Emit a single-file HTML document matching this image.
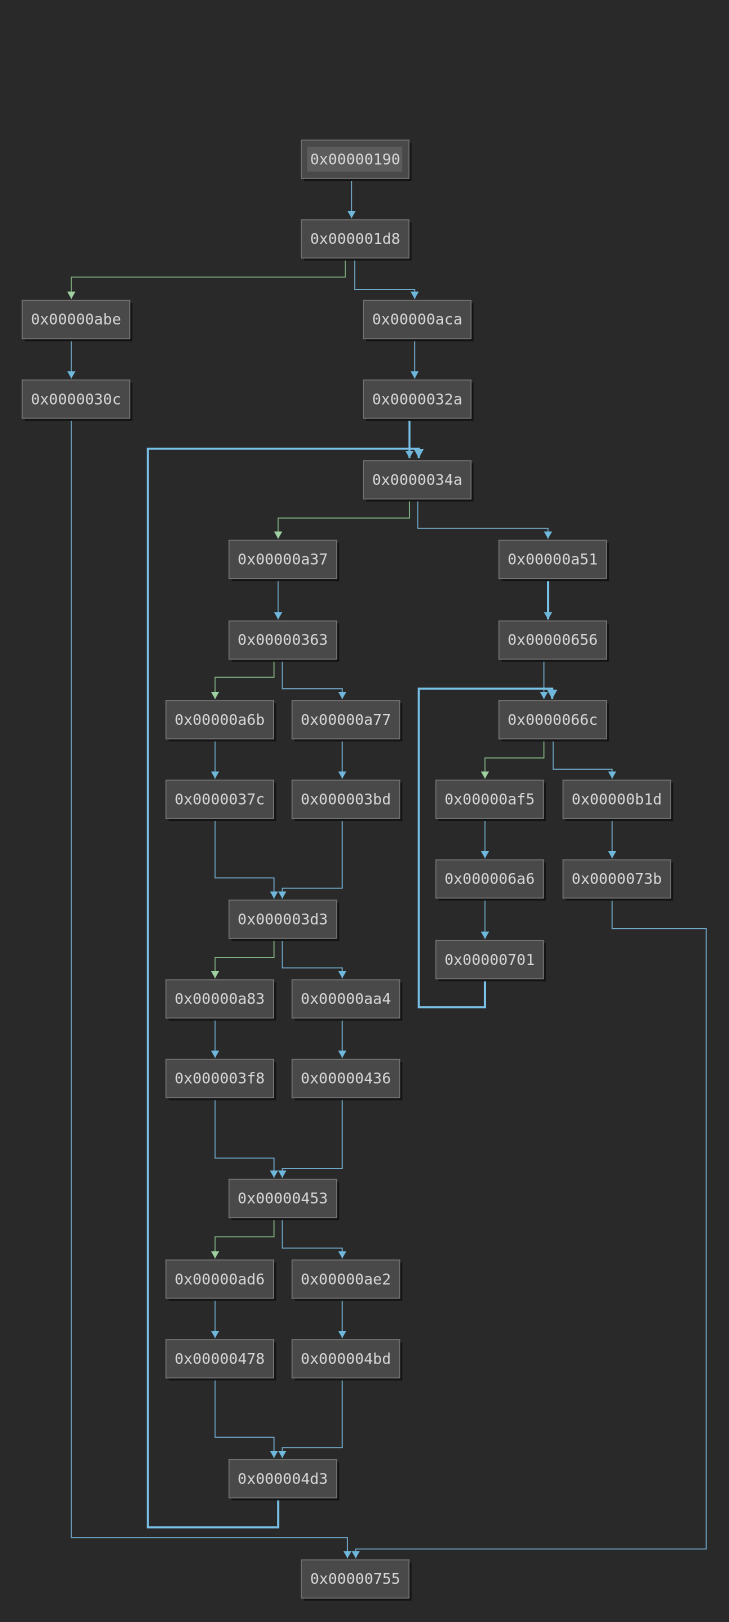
<!DOCTYPE html>
<html><head><style>
html,body{margin:0;padding:0;background:#292929;width:729px;height:1622px;overflow:hidden}
svg{display:block}
text{font-family:"DejaVu Sans Mono","Liberation Mono",monospace;font-size:14.5px;fill:#d6d6d6}
</style></head><body>
<svg width="729" height="1622" viewBox="0 0 705 1568.6" preserveAspectRatio="none" xmlns="http://www.w3.org/2000/svg">
<defs>
<marker id="b" markerWidth="8" markerHeight="8" refX="4" refY="7" markerUnits="userSpaceOnUse" viewBox="0 0 8 8"><path d="M0,0 L8,0 L4,7 z" fill="#6fb8dc"/></marker>
<marker id="g" markerWidth="8" markerHeight="8" refX="4" refY="7" markerUnits="userSpaceOnUse" viewBox="0 0 8 8"><path d="M0,0 L8,0 L4,7 z" fill="#9fd09f"/></marker>
<marker id="bb" markerWidth="10" markerHeight="10" refX="5" refY="9" markerUnits="userSpaceOnUse" viewBox="0 0 10 10"><path d="M0,0 L10,0 L5,9 z" fill="#6fb8dc"/></marker>
</defs>
<g fill="none" stroke-width="1">
<g stroke="#6fa8c8">
<polyline points="340,172 340,211" marker-end="url(#b)"/>
<polyline points="343,249 343,280 401,280 401,289" marker-end="url(#b)"/>
<polyline points="69,327 69,366" marker-end="url(#b)"/>
<polyline points="401,327 401,366" marker-end="url(#b)"/>
<polyline points="69,404 69,1487 336,1487 336,1507" marker-end="url(#b)"/>
<polyline points="404,482 404,511 530,511 530,521" marker-end="url(#b)"/>
<polyline points="269,559 269,599" marker-end="url(#b)"/>
<polyline points="273,637 273,666 331,666 331,676" marker-end="url(#b)"/>
<polyline points="526,637 526,676" marker-end="url(#b)"/>
<polyline points="535,714 535,744 592,744 592,753" marker-end="url(#b)"/>
<polyline points="469,791 469,830" marker-end="url(#b)"/>
<polyline points="469,868 469,908" marker-end="url(#b)"/>
<polyline points="592,791 592,830" marker-end="url(#b)"/>
<polyline points="592,868 592,898 683,898 683,1498 344,1498 344,1507" marker-end="url(#b)"/>
<polyline points="208,714 208,753" marker-end="url(#b)"/>
<polyline points="331,714 331,753" marker-end="url(#b)"/>
<polyline points="208,791 208,849 265,849 265,869" marker-end="url(#b)"/>
<polyline points="331,791 331,859 273,859 273,869" marker-end="url(#b)"/>
<polyline points="273,907 273,936 331,936 331,946" marker-end="url(#b)"/>
<polyline points="208,984 208,1023" marker-end="url(#b)"/>
<polyline points="331,984 331,1023" marker-end="url(#b)"/>
<polyline points="208,1061 208,1120 265,1120 265,1139" marker-end="url(#b)"/>
<polyline points="331,1061 331,1130 273,1130 273,1139" marker-end="url(#b)"/>
<polyline points="273,1177 273,1207 331,1207 331,1217" marker-end="url(#b)"/>
<polyline points="208,1255 208,1294" marker-end="url(#b)"/>
<polyline points="331,1255 331,1294" marker-end="url(#b)"/>
<polyline points="208,1332 208,1390 265,1390 265,1410" marker-end="url(#b)"/>
<polyline points="331,1332 331,1400 273,1400 273,1410" marker-end="url(#b)"/>
</g>
<g stroke="#7fb07f">
<polyline points="334,249 334,268 69,268 69,289" marker-end="url(#g)"/>
<polyline points="396,482 396,501 269,501 269,521" marker-end="url(#g)"/>
<polyline points="265,637 265,655 208,655 208,676" marker-end="url(#g)"/>
<polyline points="526,714 526,733 469,733 469,753" marker-end="url(#g)"/>
<polyline points="265,907 265,926 208,926 208,946" marker-end="url(#g)"/>
<polyline points="265,1177 265,1196 208,1196 208,1217" marker-end="url(#g)"/>
</g>
<g stroke="#78c0e6" stroke-width="2">
<polyline points="396,404 396,443" marker-end="url(#b)"/>
<polyline points="269,1448 269,1477 143,1477 143,434 405,434 405,443" marker-end="url(#bb)"/>
<polyline points="530,559 530,599" marker-end="url(#b)"/>
<polyline points="469,946 469,974 405,974 405,666 534,666 534,676" marker-end="url(#bb)"/>
</g>
</g>
<g id="nodes"></g>
</svg>
<script>
var N=[["0x00000190",291,135,1],["0x000001d8",291,212],["0x00000abe",21,290],["0x00000aca",351,290],["0x0000030c",21,367],["0x0000032a",351,367],["0x0000034a",351,445],["0x00000a37",221,522],["0x00000a51",482,522],["0x00000363",221,600],["0x00000656",482,600],["0x00000a6b",160,677],["0x00000a77",282,677],["0x0000066c",482,677],["0x0000037c",160,754],["0x000003bd",282,754],["0x00000af5",421,754],["0x00000b1d",544,754],["0x000006a6",421,831],["0x0000073b",544,831],["0x000003d3",221,870],["0x00000701",421,909],["0x00000a83",160,947],["0x00000aa4",282,947],["0x000003f8",160,1024],["0x00000436",282,1024],["0x00000453",221,1140],["0x00000ad6",160,1218],["0x00000ae2",282,1218],["0x00000478",160,1295],["0x000004bd",282,1295],["0x000004d3",221,1411],["0x00000755",291,1508]];
var g=document.getElementById("nodes"),s="";
N.forEach(function(n){var x=n[1],y=n[2];
s+='<rect x="'+(x+3)+'" y="'+(y+3)+'" width="104" height="37" fill="#141414"/>';
s+='<rect x="'+(x+.5)+'" y="'+(y+.5)+'" width="104" height="37" fill="#494949" stroke="#727272"/>';
if(n[3])s+='<rect x="'+(x+6)+'" y="'+(y+7)+'" width="92" height="24" fill="#5c5c5c"/>';
s+='<text x="'+(x+52.5)+'" y="'+(y+24)+'" text-anchor="middle">'+n[0]+'</text>';});
g.innerHTML=s;
</script>
</body></html>
